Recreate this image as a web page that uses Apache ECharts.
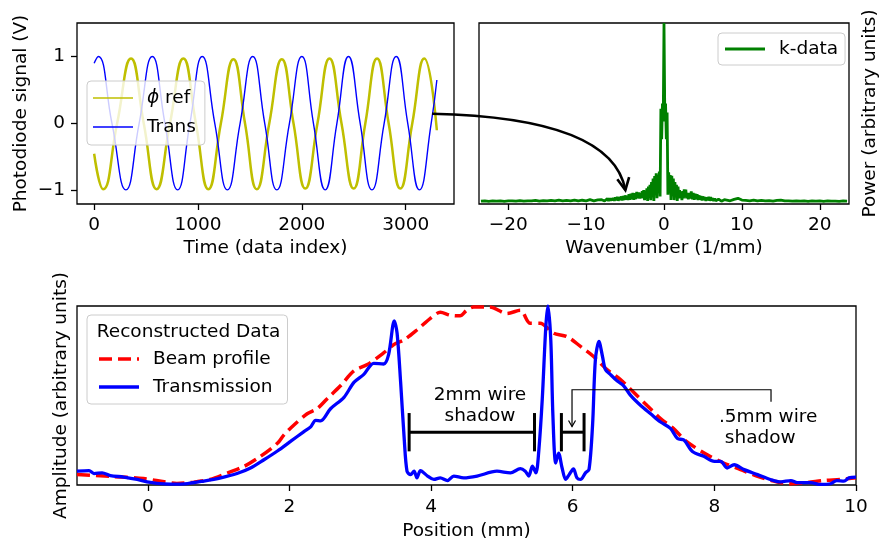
<!DOCTYPE html>
<html>
<head>
<meta charset="utf-8">
<script src="https://cdn.jsdelivr.net/npm/echarts@6/dist/echarts.min.js"></script>
<style>
html,body{margin:0;padding:0;background:#fff;}
#chart{width:881px;height:542px;}
</style>
</head>
<body>
<div id="chart"></div>
<script>
// ---------------- DATA ----------------
// Panel A: photodiode signals (time in data index)
const refX  = [0, 87, 221, 355, 478, 601, 730, 859, 980, 1100, 1220, 1341, 1453, 1566, 1686, 1807, 1920, 2033, 2150, 2266, 2382, 2499, 2611, 2724, 2836, 2948, 3063, 3179, 3300];
const refY  = [-0.45, -0.98, 0, 0.97, 0, -0.98, 0, 0.97, 0, -0.98, 0, 0.96, 0, -0.98, 0, 0.96, 0, -0.97, 0, 0.97, 0, -0.97, 0, 0.97, 0, -0.97, 0, 0.97, -0.1];
const transX = [0, 39, 172, 306, 433, 560, 682, 804, 922, 1041, 1162, 1283, 1405, 1527, 1643, 1759, 1880, 2000, 2112, 2225, 2337, 2449, 2562, 2675, 2792, 2909, 3020, 3132, 3245, 3300];
const transY = [0.9, 1, 0, -0.99, 0, 1, 0, -0.99, 0, 1, 0, -0.99, 0, 1, 0, -0.99, 0, 1, 0, -0.99, 0, 1, 0, -0.99, 0, 1, 0, -0.99, 0, 0.65];
const timeTicks = [0, 1000, 2000, 3000];
const signalTicks = [-1, 0, 1];

// Panel B: spectrum (wavenumber 1/mm, power a.u.)
const specK = [-23.5,-23,-22.5,-22,-21.5,-21,-20.5,-20,-19.5,-19,-18.5,-18,-17.5,-17,-16.5,-16,-15.5,-15,-14.5,-14,-13.5,-13,-12.5,-12,-11.5,-11,-10.5,-10,-9.5,-9,-8.5,
  -8,-7.875,-7.75,-7.625,-7.5,-7.375,-7.25,-7.125,-7,-6.875,-6.75,-6.625,-6.5,-6.375,-6.25,-6.125,-6,-5.875,-5.75,-5.625,-5.5,-5.375,-5.25,-5.125,
  -5,-4.875,-4.75,-4.625,-4.5,-4.375,-4.25,-4.125,-4,-3.875,-3.75,-3.625,-3.5,-3.375,-3.25,-3.125,
  -3,-2.9,-2.8,-2.7,-2.6,-2.5,-2.4,-2.3,-2.2,-2.1,-2,-1.9,-1.8,-1.7,-1.6,-1.5,-1.4,-1.3,-1.2,-1.1,-1,-0.9,-0.8,-0.7,-0.6,-0.5,-0.4,-0.3,-0.2,-0.1,
  0,0.1,0.2,0.3,0.4,0.5,0.6,0.7,0.8,0.9,1,1.1,1.2,1.3,1.4,1.5,1.6,1.7,1.8,1.9,2,2.1,2.2,2.3,2.4,2.5,2.6,2.7,2.8,2.9,3,
  3.125,3.25,3.375,3.5,3.625,3.75,3.875,4,4.125,4.25,4.375,4.5,4.625,4.75,4.875,5,5.125,5.25,5.375,5.5,5.625,5.75,5.875,
  6,6.125,6.25,6.375,6.5,6.625,6.75,6.875,7,7.125,7.25,7.375,7.5,7.625,7.75,7.875,8,
  8.5,9,9.5,10,10.5,11,11.5,12,12.5,13,13.5,14,14.5,15,15.5,16,16.5,17,17.5,18,18.5,19,19.5,20,20.5,21,21.5,22,22.5,23,23.5];
const specP = [0.004,0.006,0.003,0.005,0.004,0.006,0.003,0.005,0.006,0.004,0.007,0.004,0.006,0.005,0.008,0.004,0.007,0.005,0.008,0.005,0.009,0.005,0.008,0.006,0.010,0.005,0.009,0.006,0.012,0.006,0.011,
  0.012,0.004,0.014,0.005,0.016,0.006,0.018,0.005,0.020,0.006,0.020,0.008,0.022,0.006,0.025,0.008,0.028,0.006,0.026,0.010,0.030,0.008,0.033,0.010,
  0.036,0.012,0.034,0.010,0.042,0.012,0.045,0.015,0.050,0.012,0.048,0.015,0.056,0.020,0.052,0.018,
  0.050,0.020,0.060,0.030,0.065,0.010,0.055,0.020,0.075,0.005,0.085,0.030,0.095,0.010,0.110,0.040,0.130,0.005,0.145,0.060,0.160,0.020,0.150,0.080,0.170,0.030,0.520,0.350,0.550,0.450,
  1.000,0.500,0.550,0.350,0.500,0.040,0.165,0.070,0.150,0.010,0.145,0.050,0.130,0.010,0.110,0.030,0.095,0.005,0.085,0.020,0.065,0.030,0.055,0.010,0.060,0.020,0.070,0.030,0.068,0.020,0.050,
  0.015,0.050,0.018,0.058,0.014,0.050,0.012,0.046,0.015,0.042,0.010,0.036,0.012,0.032,0.008,0.030,0.010,0.026,0.006,0.025,0.008,0.028,0.006,
  0.026,0.008,0.020,0.005,0.018,0.006,0.016,0.005,0.015,0.006,0.014,0.004,0.012,0.005,0.012,0.004,0.012,
  0.006,0.014,0.020,0.010,0.008,0.006,0.010,0.005,0.008,0.005,0.007,0.004,0.008,0.010,0.005,0.006,0.004,0.006,0.004,0.005,0.003,0.005,0.004,0.005,0.003,0.005,0.004,0.004,0.003,0.005,0.004];
const kTicks = [-20, -10, 0, 10, 20];

// Panel C: reconstructed data (position in mm, amplitude a.u.)
const beamX = [-1.0,-0.53,-0.06,0.23,0.41,0.65,0.88,1.13,1.36,1.59,1.83,1.92,2.06,2.25,2.39,2.53,2.72,2.91,3.10,3.33,3.47,3.62,3.80,3.99,4.13,4.27,4.41,4.50,4.60,4.83,5.07,5.26,5.40,5.54,5.73,5.92,6.11,6.29,6.48,6.67,6.86,7.05,7.24,7.42,7.61,7.90,8.13,8.37,8.60,8.84,9.07,9.31,9.54,9.78,10.0];
const beamY = [0.058,0.048,0.036,0.018,0.009,0.016,0.031,0.068,0.104,0.160,0.233,0.279,0.334,0.398,0.426,0.481,0.554,0.637,0.673,0.738,0.784,0.811,0.866,0.931,0.965,0.949,0.945,0.975,0.994,0.994,0.958,0.976,0.903,0.903,0.848,0.829,0.774,0.719,0.646,0.591,0.518,0.444,0.371,0.316,0.242,0.169,0.123,0.086,0.050,0.022,0.007,0.013,0.025,0.031,0.040];
const transmX = [-1.0,-0.83,-0.76,-0.645,-0.53,-0.34,-0.15,-0.01,0.13,0.32,0.56,0.79,1.03,1.26,1.45,1.64,1.83,2.01,2.20,2.30,2.37,2.44,2.58,2.77,2.91,3.05,3.19,3.33,3.40,3.48,3.52,3.57,3.62,3.66,3.71,3.76,3.80,3.85,3.95,4.04,4.13,4.23,4.32,4.46,4.65,4.93,5.12,5.26,5.33,5.38,5.43,5.48,5.52,5.57,5.62,5.65,5.69,5.72,5.76,5.80,5.85,5.90,5.95,6.01,6.06,6.11,6.18,6.23,6.28,6.32,6.37,6.42,6.46,6.53,6.63,6.72,6.82,6.96,7.10,7.24,7.38,7.48,7.57,7.69,7.85,8.00,8.09,8.18,8.28,8.42,8.61,8.79,8.94,9.08,9.17,9.36,9.50,9.64,9.73,9.83,9.90,10.0];
const transmY = [0.077,0.080,0.064,0.068,0.053,0.044,0.031,0.017,0.009,0.005,0.008,0.022,0.040,0.064,0.095,0.141,0.190,0.242,0.297,0.325,0.361,0.358,0.426,0.490,0.573,0.618,0.680,0.676,0.728,0.917,0.848,0.573,0.260,0.077,0.058,0.077,0.040,0.080,0.050,0.031,0.040,0.025,0.050,0.040,0.050,0.077,0.068,0.091,0.077,0.050,0.105,0.068,0.187,0.481,0.884,1.0,0.811,0.389,0.123,0.178,0.095,0.031,0.058,0.090,0.040,0.031,0.068,0.086,0.334,0.701,0.802,0.719,0.646,0.618,0.581,0.554,0.499,0.444,0.398,0.352,0.316,0.260,0.251,0.187,0.160,0.132,0.132,0.095,0.113,0.086,0.058,0.031,0.017,0.025,0.013,0.013,0.003,0.007,0.025,0.022,0.040,0.044];
const posTicks = [0, 2, 4, 6, 8, 10];

// Annotations (data coordinates)
const wire2mm = [3.69, 5.46];
const wire05mm = [5.84, 6.16];
const bracketLevel = 0.295;
const capHalf = 0.107;
const label2mm = [4.69, 0.442];
const label05mm = [8.065, 0.322];
const connector05 = [[8.8, 0.465], [8.8, 0.532], [5.99, 0.532], [5.99, 0.327]];
const arrowFrom = [3254, 0.147];   // panel A coords
const arrowTo = [-4.96, 0.066];    // panel B coords

// ---------------- CHART ----------------
const FONT = 'DejaVu Sans';
const FS = 18.5;
const zip = (a, b) => a.map((v, i) => [v, b[i]]);
const minus = v => String(v).replace('-', '\u2212');

const tickStyle = {length: 6, lineStyle: {color: '#000', width: 1.3}};
const labelBase = {fontSize: FS, fontFamily: FONT, color: '#000'};
const nameStyle = {fontSize: FS, fontFamily: FONT, color: '#000'};
const gridBase = {show: true, borderColor: '#000', borderWidth: 1.3, backgroundColor: 'transparent', containLabel: false};
const legendBase = {
  orient: 'vertical', itemWidth: 40, backgroundColor: 'rgba(255,255,255,0.8)',
  borderColor: '#cccccc', borderWidth: 1, borderRadius: 4, selectedMode: false,
  itemStyle: {borderWidth: 0},
  textStyle: {fontSize: FS, fontFamily: FONT, color: '#000', lineHeight: 20, padding: [0, 0, 0, 9],
    rich: {i: {fontStyle: 'italic', fontSize: FS, fontFamily: FONT, color: '#000'}}}
};

const chart = echarts.init(document.getElementById('chart'), null, {renderer: 'canvas'});
const option = {
  animation: false,
  backgroundColor: '#fff',
  grid: [
    Object.assign({left: 77, top: 23, width: 377, height: 181}, gridBase),
    Object.assign({left: 479, top: 23, width: 377, height: 181}, gridBase),
    Object.assign({left: 77, top: 306, width: 779, height: 181}, gridBase)
  ],
  xAxis: [
    {gridIndex: 0, type: 'value', min: -165, max: 3465,
      axisLine: {show: false, onZero: false}, splitLine: {show: false},
      axisTick: Object.assign({customValues: timeTicks}, tickStyle),
      axisLabel: Object.assign({customValues: timeTicks, margin: 12, formatter: minus}, labelBase),
      name: 'Time (data index)', nameLocation: 'middle', nameGap: 35, nameTextStyle: nameStyle},
    {gridIndex: 1, type: 'value', min: -23.75, max: 23.75,
      axisLine: {show: false, onZero: false}, splitLine: {show: false},
      axisTick: Object.assign({customValues: kTicks}, tickStyle),
      axisLabel: Object.assign({customValues: kTicks, margin: 12, formatter: minus}, labelBase),
      name: 'Wavenumber (1/mm)', nameLocation: 'middle', nameGap: 35, nameTextStyle: nameStyle},
    {gridIndex: 2, type: 'value', min: -1, max: 10,
      axisLine: {show: false, onZero: false}, splitLine: {show: false},
      axisTick: Object.assign({customValues: posTicks}, tickStyle),
      axisLabel: Object.assign({customValues: posTicks, margin: 13, formatter: minus}, labelBase),
      name: 'Position (mm)', nameLocation: 'middle', nameGap: 37, nameTextStyle: nameStyle}
  ],
  yAxis: [
    {gridIndex: 0, type: 'value', min: -1.2, max: 1.5,
      axisLine: {show: false, onZero: false}, splitLine: {show: false},
      axisTick: Object.assign({customValues: signalTicks}, tickStyle),
      axisLabel: Object.assign({customValues: signalTicks, margin: 12, formatter: minus}, labelBase),
      name: 'Photodiode signal (V)', nameLocation: 'middle', nameRotate: 90, nameGap: 46, nameTextStyle: nameStyle},
    {gridIndex: 1, type: 'value', min: -0.012, max: 1, position: 'right',
      axisLine: {show: false, onZero: false}, splitLine: {show: false},
      axisTick: {show: false}, axisLabel: {show: false},
      name: 'Power (arbitrary units)', nameLocation: 'middle', nameRotate: 90, nameGap: 12, nameTextStyle: nameStyle},
    {gridIndex: 2, type: 'value', min: 0, max: 1,
      axisLine: {show: false, onZero: false}, splitLine: {show: false},
      axisTick: {show: false}, axisLabel: {show: false},
      name: 'Amplitude (arbitrary units)', nameLocation: 'middle', nameRotate: 90, nameGap: 6, nameTextStyle: nameStyle}
  ],
  legend: [
    Object.assign({}, legendBase, {
      data: [{name: 'ϕ ref', icon: 'rect'}, {name: 'Trans', icon: 'rect'}],
      left: 87, top: 81, itemHeight: 1.6, itemGap: 9, padding: [7, 9, 8, 6],
      formatter: n => n === 'ϕ ref' ? '{i|ϕ} ref' : n}),
    Object.assign({}, legendBase, {
      data: [{name: 'k-data', icon: 'rect'}],
      left: 718, top: 33, itemHeight: 3, itemGap: 0, padding: [6, 7, 6, 7]}),
    Object.assign({}, legendBase, {
      data: [{name: 'Beam profile', icon: 'path://M0,0H13V3.5H0Z M19,0H32V3.5H19Z M38,0H40V3.5H38Z'},
             {name: 'Transmission', icon: 'rect'}],
      left: 87, top: 315, itemHeight: 3.5, itemGap: 8, padding: [34, 15, 7, 12]})
  ],
  series: [
    {name: 'ϕ ref', type: 'line', xAxisIndex: 0, yAxisIndex: 0, data: zip(refX, refY), smooth: 0.5,
      showSymbol: false, color: '#bfbf00', lineStyle: {color: '#bfbf00', width: 2.5}, z: 2},
    {name: 'Trans', type: 'line', xAxisIndex: 0, yAxisIndex: 0, data: zip(transX, transY), smooth: 0.5,
      showSymbol: false, color: '#0000ff', lineStyle: {color: '#0000ff', width: 1.4}, z: 3},
    {name: 'k-data', type: 'line', xAxisIndex: 1, yAxisIndex: 1, data: zip(specK, specP),
      showSymbol: false, color: '#008000', lineStyle: {color: '#008000', width: 2.8}},
    {name: 'Beam profile', type: 'line', xAxisIndex: 2, yAxisIndex: 2, data: zip(beamX, beamY), smooth: 0.3,
      showSymbol: false, color: '#ff0000', lineStyle: {color: '#ff0000', width: 3.5, type: [13, 6]}, z: 2},
    {name: 'Transmission', type: 'line', xAxisIndex: 2, yAxisIndex: 2, data: zip(transmX, transmY), smooth: 0.3,
      showSymbol: false, color: '#0000ff', lineStyle: {color: '#0000ff', width: 3.3}, z: 3}
  ]
};
chart.setOption(option);

// ---------------- ANNOTATIONS ----------------
const P = (g, x, y) => chart.convertToPixel({gridIndex: g}, [x, y]);
const gfx = [];
const blk = {stroke: '#000', fill: null};

// legend title
gfx.push({type: 'text', x: 188.5, y: 332, silent: true, z: 200,
  style: {text: 'Reconstructed Data', font: FS + 'px ' + FONT, fill: '#000', align: 'center', verticalAlign: 'middle'}});

function bracket(range) {
  const a = P(2, range[0], bracketLevel), b = P(2, range[1], bracketLevel);
  const a1 = P(2, range[0], bracketLevel + capHalf), a2 = P(2, range[0], bracketLevel - capHalf);
  const b1 = P(2, range[1], bracketLevel + capHalf), b2 = P(2, range[1], bracketLevel - capHalf);
  const st = Object.assign({lineWidth: 3}, blk);
  gfx.push({type: 'line', shape: {x1: a[0], y1: a[1], x2: b[0], y2: b[1]}, style: st, z: 100});
  gfx.push({type: 'line', shape: {x1: a1[0], y1: a1[1], x2: a2[0], y2: a2[1]}, style: st, z: 100});
  gfx.push({type: 'line', shape: {x1: b1[0], y1: b1[1], x2: b2[0], y2: b2[1]}, style: st, z: 100});
}
bracket(wire2mm);
bracket(wire05mm);

const t2 = P(2, label2mm[0], label2mm[1]);
gfx.push({type: 'text', x: t2[0], y: t2[1], z: 100,
  style: {text: '2mm wire\nshadow', font: FS + 'px ' + FONT, fill: '#000', align: 'center', verticalAlign: 'middle', lineHeight: 21}});
const t5 = P(2, label05mm[0], label05mm[1]);
gfx.push({type: 'text', x: t5[0], y: t5[1], z: 100,
  style: {text: '.5mm wire\n shadow', font: FS + 'px ' + FONT, fill: '#000', align: 'left', verticalAlign: 'middle', lineHeight: 21}});

const cpts = connector05.map(p => P(2, p[0], p[1]));
gfx.push({type: 'polyline', shape: {points: cpts}, style: Object.assign({lineWidth: 1.2}, blk), z: 100});
const tip = cpts[cpts.length - 1];
gfx.push({type: 'polyline', shape: {points: [[tip[0] - 3.5, tip[1] - 6], tip, [tip[0] + 3.5, tip[1] - 6]]},
  style: Object.assign({lineWidth: 1.2}, blk), z: 100});

// curved arrow from panel A to panel B
const S = P(0, arrowFrom[0], arrowFrom[1]);
const E = P(1, arrowTo[0], arrowTo[1]);
const dx = E[0] - S[0], dy = E[1] - S[1];
const C1 = [S[0] + 0.55 * dx, S[1] + 0.03 * dy];
const C2 = [E[0] - 0.05 * dx, E[1] - 0.70 * dy];
gfx.push({type: 'bezierCurve', shape: {x1: S[0], y1: S[1], x2: E[0], y2: E[1], cpx1: C1[0], cpy1: C1[1], cpx2: C2[0], cpy2: C2[1]},
  style: Object.assign({lineWidth: 2.6}, blk), z: 100});
let ux = E[0] - C2[0], uy = E[1] - C2[1];
const ul = Math.hypot(ux, uy); ux /= ul; uy /= ul;
const L = 12, W = 6;
gfx.push({type: 'polyline', shape: {points: [
    [E[0] - L * ux - W * uy, E[1] - L * uy + W * ux], E, [E[0] - L * ux + W * uy, E[1] - L * uy - W * ux]]},
  style: Object.assign({lineWidth: 2.6, lineJoin: 'miter'}, blk), z: 100});

chart.setOption({graphic: gfx});
</script>
</body>
</html>
